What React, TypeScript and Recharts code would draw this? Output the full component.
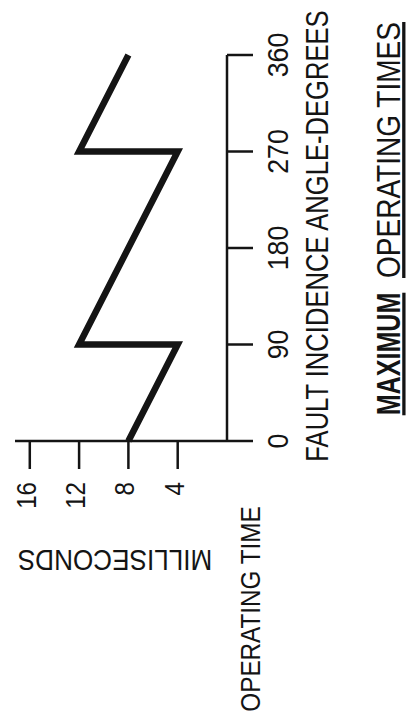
import React from 'react';
import { LineChart, Line, XAxis, YAxis, Label } from 'recharts';

// Fault incidence angle (degrees) and maximum operating time (milliseconds)
const faultAngleDeg = [0, 90, 90, 270, 270, 360];
const operatingTimeMs = [8, 4, 12, 4, 12, 8];
const angleTicks = [0, 90, 180, 270, 360];
const timeTicks = [4, 8, 12, 16];

const xTitle = 'FAULT INCIDENCE ANGLE-DEGREES';
const yTitle = 'OPERATING TIME';
const yUnit = 'MILLISECONDS';
const titleBold = 'MAXIMUM';
const titleRest = 'OPERATING TIMES';

const data = faultAngleDeg.map((a, i) => ({ angle: a, time: operatingTimeMs[i] }));

const INK = '#141414';
const FONT = "'Liberation Sans', Arial, sans-serif";

const AngleTick = (props: any) => {
  const { x, y, payload } = props;
  return (
    <text
      transform={`translate(${x} ${y + 35}) scale(0.92 1)`}
      textAnchor="middle"
      fontSize={29}
      fontFamily={FONT}
      fill={INK}
    >
      {payload.value}
    </text>
  );
};

const TimeTick = (props: any) => {
  const { x, y, payload } = props;
  return (
    <text
      transform={`translate(${x - 13} ${y + 6}) scale(0.86 1)`}
      textAnchor="end"
      fontSize={28}
      fontFamily={FONT}
      fill={INK}
    >
      {payload.value}
    </text>
  );
};

const Titles = () => (
  <g fill={INK} fontFamily={FONT}>
    <text transform="translate(119 260) scale(0.867 1)" textAnchor="middle" fontSize={28}>
      {yTitle}
    </text>
    <text transform="translate(178 115) rotate(-90) scale(0.87 1)" textAnchor="middle" fontSize={30}>
      {yUnit}
    </text>
    <text transform="translate(492 328) scale(0.80 1)" textAnchor="middle" fontSize={32}>
      {xTitle}
    </text>
    <text
      transform="translate(374 400) scale(0.76 1)"
      textAnchor="middle"
      fontSize={33}
      fontWeight="bold"
      style={{ textDecoration: 'underline' }}
    >
      {titleBold}
    </text>
    <text
      transform="translate(578 400) scale(0.85 1)"
      textAnchor="middle"
      fontSize={33}
      style={{ textDecoration: 'underline' }}
    >
      {titleRest}
    </text>
  </g>
);

export default function App() {
  return (
    <div
      style={{
        position: 'absolute',
        left: 0,
        top: 0,
        width: 410,
        height: 728,
        overflow: 'hidden',
        background: '#ffffff',
      }}
    >
      <div
        style={{
          position: 'absolute',
          left: 0,
          top: 0,
          width: 728,
          height: 410,
          transformOrigin: '0 0',
          transform: 'translate(0px, 728px) rotate(-90deg)',
        }}
      >
        <LineChart width={728} height={410} data={data} margin={{ top: 15, right: 55, bottom: 0, left: 0 }}>
          <XAxis
            type="number"
            dataKey="angle"
            domain={[0, 360]}
            ticks={angleTicks}
            interval={0}
            tickSize={26}
            tickMargin={0}
            height={183}
            axisLine={{ stroke: INK, strokeWidth: 2.5 }}
            tickLine={{ stroke: INK, strokeWidth: 2.5 }}
            tick={<AngleTick />}
          >
            <Label content={() => <Titles />} />
          </XAxis>
          <YAxis
            type="number"
            dataKey="time"
            domain={[0, 17.2]}
            ticks={timeTicks}
            interval={0}
            tickSize={28}
            tickMargin={0}
            width={287}
            axisLine={{ stroke: INK, strokeWidth: 2.5 }}
            tickLine={{ stroke: INK, strokeWidth: 2.5 }}
            tick={<TimeTick />}
          />
          <Line
            type="linear"
            dataKey="time"
            stroke={INK}
            strokeWidth={6.5}
            strokeLinejoin="miter"
            dot={false}
            activeDot={false}
            isAnimationActive={false}
          />
        </LineChart>
      </div>
    </div>
  );
}
